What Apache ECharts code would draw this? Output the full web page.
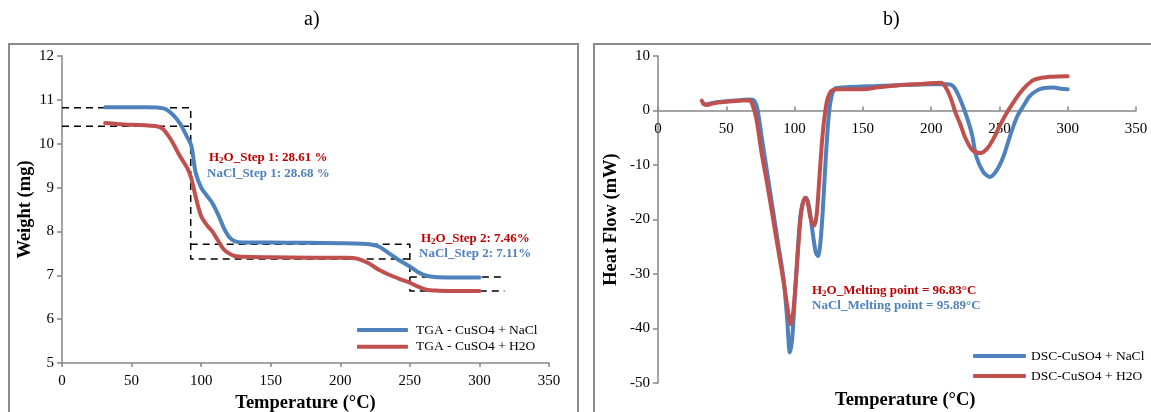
<!DOCTYPE html>
<html>
<head>
<meta charset="utf-8">
<script src="https://cdn.jsdelivr.net/npm/echarts@6/dist/echarts.min.js"></script>
<style>
  html, body { margin: 0; padding: 0; background: #fff; }
  #chart { width: 1151px; height: 412px; }
</style>
</head>
<body>
<div id="chart"></div>
<script>
// TGA curves (temperature °C, weight mg)
const tgaNaCl = [[31,10.83],[40,10.83],[50,10.83],[60,10.83],[70,10.82],[75,10.78],[80,10.65],[85,10.45],[90,10.15],[93,9.95],[96,9.35],[100,9.0],[104,8.82],[108,8.65],[112,8.4],[116,8.1],[120,7.88],[124,7.78],[130,7.75],[150,7.75],[175,7.74],[200,7.73],[215,7.72],[222,7.70],[228,7.65],[235,7.5],[242,7.35],[250,7.2],[256,7.07],[262,6.99],[268,6.96],[280,6.95],[300,6.95]]
const tgaH2O = [[31,10.47],[40,10.45],[50,10.43],[60,10.42],[68,10.40],[72,10.35],[76,10.2],[80,10.0],[85,9.7],[90,9.45],[93,9.2],[96,8.8],[100,8.35],[104,8.15],[108,8.0],[112,7.8],[116,7.6],[120,7.5],[124,7.44],[130,7.42],[150,7.41],[180,7.40],[205,7.40],[212,7.38],[220,7.28],[228,7.12],[236,7.0],[244,6.9],[250,6.83],[256,6.74],[262,6.67],[270,6.65],[285,6.64],[300,6.64]]

// step guide lines (dashed)
const guideA = [[0,10.82],[92.5,10.82],[92.5,7.37],[250,7.37]]
const guideB = [[92.5,7.71],[250,7.71],[250,6.64],[318,6.64]]
const guideC = [[0,10.40],[92.5,10.40]]
const guideD = [[250,6.96],[316,6.96]]

// DSC curves (temperature °C, heat flow mW)
const dscNaCl = [[33,1.3],[35,1.1],[40,1.4],[50,1.7],[60,1.9],[68,2.0],[71,1.6],[73,0],[76,-5],[80,-11.5],[84,-18],[88,-24.5],[92,-31],[94.5,-38],[96.6,-44.4],[98.2,-42],[100,-35],[102,-27],[104,-20],[106,-17],[108.5,-16],[110.5,-17.5],[113,-22],[115.5,-26],[117.2,-26.7],[119,-24],[121,-17],[123,-8],[125,-1],[127,2.5],[130,4.1],[140,4.3],[160,4.5],[180,4.7],[200,4.8],[212,4.8],[216,4.5],[220,2.8],[226,-1.1],[230,-4.5],[233,-8.4],[238,-11.2],[243,-12.2],[248,-11],[253,-8.4],[258,-4.5],[263,-1.1],[268,1],[272,2.6],[277,3.6],[282,4.1],[290,4.2],[295,4.0],[300,3.9]]
const dscH2O = [[32,1.8],[34,1.1],[36,1.0],[40,1.3],[50,1.6],[60,1.8],[67,1.9],[69,1.2],[72,-1.5],[76,-8],[80,-13.5],[84,-19.5],[88,-25.5],[92,-31.5],[95,-36.5],[97,-39.2],[99,-37],[101,-31],[103,-24],[105,-18.5],[107.5,-16],[109.5,-16.8],[111.5,-19.5],[114,-21.2],[116,-19.5],[118,-13],[120,-6],[122,-1],[124,2],[127,3.6],[132,3.9],[150,3.9],[160,4.2],[175,4.6],[195,4.9],[207,5.1],[210,4.5],[214,2.5],[218,-0.5],[221,-2.3],[225,-5],[230,-7.2],[236,-7.8],[241,-7],[246,-5],[250,-2.9],[255,-0.6],[260,1.4],[265,3.2],[270,4.6],[275,5.6],[281,6.0],[287,6.2],[300,6.3]]

const FONT = '"Liberation Serif", "Times New Roman", serif'
const BLUE = '#4f81bd'
const RED = '#c0504d'
const RED_TXT = '#c00000'
const AXIS = '#878787'

// right panel: y from -50 to 10 over 327px, x axis sits at y = 0
const DSC_TOP = 56
const DSC_BOTTOM = 29
const DSC_H = 412 - DSC_TOP - DSC_BOTTOM
const DSC_ZERO_SHIFT = DSC_H * 50 / 60

const mkAxis = function (extra) {
  return Object.assign({
    type: 'value',
    splitLine: { show: false },
    axisLine: { onZero: false, lineStyle: { color: AXIS, width: 1.5 } },
    axisTick: { lineStyle: { color: AXIS, width: 1.5 }, length: 4 },
    axisLabel: { color: '#000', fontFamily: FONT, fontSize: 15 },
    nameTextStyle: { color: '#000', fontFamily: FONT, fontSize: 18.5, fontWeight: 'bold' },
  }, extra)
}

const curve = function (name, data, color, xi) {
  return {
    name: name, type: 'line', data: data, xAxisIndex: xi, yAxisIndex: xi,
    showSymbol: false, smooth: 0.3, silent: true,
    lineStyle: { color: color, width: 4, cap: 'round' }, itemStyle: { color: color },
  }
}

const guide = function (data) {
  return {
    type: 'line', data: data, xAxisIndex: 0, yAxisIndex: 0, showSymbol: false, silent: true,
    lineStyle: { color: '#000', width: 1.5, type: [7, 5] }, z: 1,
  }
}

const rich = function (color) {
  return {
    a: { fontFamily: FONT, fontSize: 13, fontWeight: 'bold', fill: color, color: color, lineHeight: 16 },
    s: { fontFamily: FONT, fontSize: 9, fontWeight: 'bold', fill: color, color: color, verticalAlign: 'bottom', lineHeight: 16, padding: [5, 0, 0, 0] },
  }
}

const note = function (x, y, parts, color) {
  return {
    type: 'text', left: x, top: y - 8, z: 10,
    style: { text: parts, rich: rich(color), font: 'bold 13px ' + FONT, fill: color },
  }
}

const option = {
  animation: false,
  grid: [
    { left: 62, right: 602, top: 56, bottom: 49, outerBoundsMode: 'none' },
    { left: 658, right: 15, top: DSC_TOP, bottom: DSC_BOTTOM, outerBoundsMode: 'none' },
  ],
  xAxis: [
    mkAxis({ gridIndex: 0, min: 0, max: 350, interval: 50, name: 'Temperature (°C)', nameLocation: 'middle', nameGap: 31, axisLabel: { color: '#000', fontFamily: FONT, fontSize: 15, margin: 11 } }),
    mkAxis({ gridIndex: 1, min: 0, max: 350, interval: 50, offset: -DSC_ZERO_SHIFT, axisLabel: { color: '#000', fontFamily: FONT, fontSize: 15, margin: 11 }, axisTick: { inside: true, length: 4, lineStyle: { color: AXIS, width: 1.5 } } }),
  ],
  yAxis: [
    mkAxis({ gridIndex: 0, min: 5, max: 12, interval: 1, name: 'Weight (mg)', nameLocation: 'middle', nameGap: 26, axisTick: { lineStyle: { color: AXIS, width: 1.5 }, length: 5 } }),
    mkAxis({ gridIndex: 1, min: -50, max: 10, interval: 10, name: 'Heat Flow (mW)', nameLocation: 'middle', nameGap: 37, axisTick: { lineStyle: { color: AXIS, width: 1.5 }, length: 5 } }),
  ],
  legend: [
    {
      data: ['TGA - CuSO4 + NaCl', 'TGA - CuSO4 + H2O'], orient: 'vertical', left: 357, top: 323, padding: 0,
      itemWidth: 51, itemHeight: 4, itemGap: 2.7, icon: 'roundRect',
      textStyle: { color: '#000', fontFamily: FONT, fontSize: 13.5, padding: [0, 0, 0, 3] },
    },
    {
      data: ['DSC-CuSO4 + NaCl', 'DSC-CuSO4 + H2O'], orient: 'vertical', left: 973, top: 349, padding: 0,
      itemWidth: 53, itemHeight: 4, itemGap: 6, icon: 'roundRect',
      textStyle: { color: '#000', fontFamily: FONT, fontSize: 13.5 },
    },
  ],
  graphic: [
    { type: 'rect', shape: { x: 9, y: 44, width: 569, height: 400 }, style: { fill: 'none', stroke: '#8c8c8c', lineWidth: 2 }, z: 0 },
    { type: 'rect', shape: { x: 594, y: 44, width: 580, height: 400 }, style: { fill: 'none', stroke: '#8c8c8c', lineWidth: 2 }, z: 0 },
    { type: 'text', left: 304, top: 10, style: { text: 'a)', font: '20px ' + FONT, fill: '#000' } },
    { type: 'text', left: 883, top: 10, style: { text: 'b)', font: '20px ' + FONT, fill: '#000' } },
    { type: 'text', left: 835, top: 391, style: { text: 'Temperature (°C)', font: 'bold 18.5px ' + FONT, fill: '#000' } },
    note(209, 159, '{a|H}{s|2}{a|O_Step 1: 28.61 %}', RED_TXT),
    note(207, 175, '{a|NaCl_Step 1: 28.68 %}', BLUE),
    note(421, 240, '{a|H}{s|2}{a|O_Step 2: 7.46%}', RED_TXT),
    note(419, 255, '{a|NaCl_Step 2: 7.11%}', BLUE),
    note(812, 292, '{a|H}{s|2}{a|O_Melting point = 96.83°C}', RED_TXT),
    note(812, 307, '{a|NaCl_Melting point = 95.89°C}', BLUE),
  ],
  series: [
    guide(guideA), guide(guideB), guide(guideC), guide(guideD),
    curve('TGA - CuSO4 + NaCl', tgaNaCl, BLUE, 0),
    curve('TGA - CuSO4 + H2O', tgaH2O, RED, 0),
    curve('DSC-CuSO4 + NaCl', dscNaCl, BLUE, 1),
    curve('DSC-CuSO4 + H2O', dscH2O, RED, 1),
  ],
}

const c = echarts.init(document.getElementById('chart'))
c.setOption(option)
</script>
</body>
</html>
